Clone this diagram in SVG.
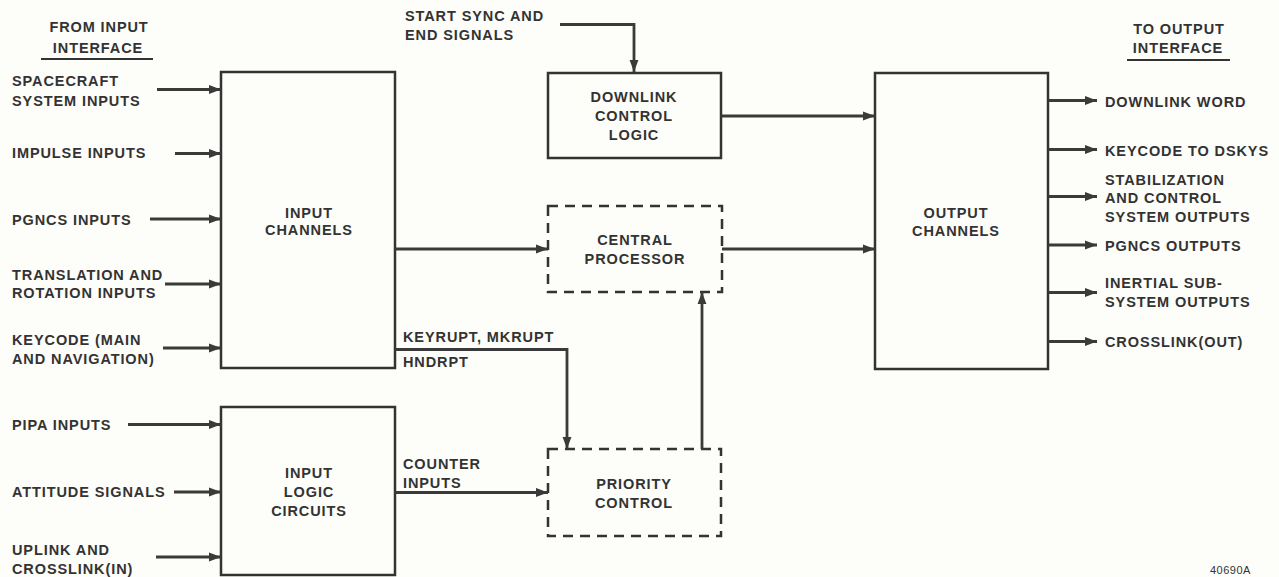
<svg xmlns="http://www.w3.org/2000/svg" width="1279" height="577" viewBox="0 0 1279 577">
<style>
text{font-family:"Liberation Sans",Arial,sans-serif;font-weight:bold;font-size:14.5px;letter-spacing:0.9px;fill:#333}
.c{text-anchor:middle}
.box{fill:none;stroke:#333;stroke-width:2.5}
.dash{fill:none;stroke:#333;stroke-width:2.5;stroke-dasharray:10 7}
.ln{fill:none;stroke:#3a3a3a;stroke-width:2.8}
.arr{marker-end:url(#ah)}
.ul{stroke:#333;stroke-width:1.8}
</style>
<defs>
<marker id="ah" markerUnits="userSpaceOnUse" markerWidth="14" markerHeight="10" refX="12" refY="5" orient="auto">
<path d="M0,0.6 L12,5 L0,9.4 Z" fill="#3a3a3a"/>
</marker>
</defs>
<rect width="1279" height="577" fill="#fdfdf9"/>

<g id="header-left">
<text x="99" y="32" class="c">FROM INPUT</text>
<text x="98" y="53" class="c">INTERFACE</text>
<line x1="41" y1="59" x2="153" y2="59" class="ul"/>
</g>
<g id="header-right">
<text x="1179" y="34" class="c">TO OUTPUT</text>
<text x="1178" y="53" class="c">INTERFACE</text>
<line x1="1127" y1="60" x2="1230" y2="60" class="ul"/>
</g>

<g id="input-channels">
<rect x="221" y="72" width="174" height="296" class="box"/>
<text x="309" y="218" class="c">INPUT</text>
<text x="309" y="235" class="c">CHANNELS</text>
</g>
<g id="input-logic-circuits">
<rect x="221" y="407" width="174" height="168" class="box"/>
<text x="309" y="478" class="c">INPUT</text>
<text x="309" y="497" class="c">LOGIC</text>
<text x="309" y="516" class="c">CIRCUITS</text>
</g>
<g id="downlink-control-logic">
<rect x="548" y="73" width="173" height="85" class="box"/>
<text x="634" y="102" class="c">DOWNLINK</text>
<text x="634" y="121" class="c">CONTROL</text>
<text x="634" y="140" class="c">LOGIC</text>
</g>
<g id="central-processor">
<rect x="548" y="206" width="174" height="86" class="dash"/>
<text x="635" y="245" class="c">CENTRAL</text>
<text x="635" y="264" class="c">PROCESSOR</text>
</g>
<g id="priority-control">
<rect x="548" y="449" width="173" height="87" class="dash"/>
<text x="634" y="489" class="c">PRIORITY</text>
<text x="634" y="508" class="c">CONTROL</text>
</g>
<g id="output-channels">
<rect x="875" y="73" width="173" height="296" class="box"/>
<text x="956" y="218" class="c">OUTPUT</text>
<text x="956" y="236" class="c">CHANNELS</text>
</g>

<g id="input-labels">
<text x="12" y="86">SPACECRAFT</text>
<text x="12" y="106">SYSTEM INPUTS</text>
<text x="12" y="158">IMPULSE  INPUTS</text>
<text x="12" y="225">PGNCS INPUTS</text>
<text x="12" y="280">TRANSLATION AND</text>
<text x="12" y="298">ROTATION INPUTS</text>
<text x="12" y="345">KEYCODE (MAIN</text>
<text x="12" y="364">AND NAVIGATION)</text>
<text x="12" y="430">PIPA INPUTS</text>
<text x="12" y="497">ATTITUDE SIGNALS</text>
<text x="12" y="555">UPLINK AND</text>
<text x="12" y="574">CROSSLINK(IN)</text>
</g>
<g id="output-labels">
<text x="1105" y="107">DOWNLINK  WORD</text>
<text x="1105" y="156">KEYCODE TO DSKYS</text>
<text x="1105" y="185">STABILIZATION</text>
<text x="1105" y="203">AND CONTROL</text>
<text x="1105" y="222">SYSTEM OUTPUTS</text>
<text x="1105" y="251">PGNCS OUTPUTS</text>
<text x="1105" y="288">INERTIAL SUB-</text>
<text x="1105" y="307">SYSTEM OUTPUTS</text>
<text x="1105" y="347">CROSSLINK(OUT)</text>
</g>
<g id="connector-labels">
<text x="405" y="21">START SYNC AND</text>
<text x="405" y="40">END SIGNALS</text>
<text x="403" y="342">KEYRUPT, MKRUPT</text>
<text x="403" y="367">HNDRPT</text>
<text x="403" y="469">COUNTER</text>
<text x="403" y="488">INPUTS</text>
</g>

<g id="connectors">
<path d="M157,89.5 H221" class="ln arr"/>
<path d="M175,153.5 H221" class="ln arr"/>
<path d="M150,219 H221" class="ln arr"/>
<path d="M165,284 H221" class="ln arr"/>
<path d="M163,348 H221" class="ln arr"/>
<path d="M128,424.5 H221" class="ln arr"/>
<path d="M174,492 H221" class="ln arr"/>
<path d="M156,557 H221" class="ln arr"/>
<path d="M560,24.5 H634 V72" class="ln arr"/>
<path d="M721,116 H875" class="ln arr"/>
<path d="M395,249 H548" class="ln arr"/>
<path d="M722,249 H875" class="ln arr"/>
<path d="M395,349.5 H567 V449" class="ln arr"/>
<path d="M702,449 V292" class="ln arr"/>
<path d="M395,492.5 H548" class="ln arr"/>
<path d="M1048,100.5 H1097" class="ln arr"/>
<path d="M1048,149.5 H1097" class="ln arr"/>
<path d="M1048,196.5 H1097" class="ln arr"/>
<path d="M1048,245 H1097" class="ln arr"/>
<path d="M1048,292.5 H1097" class="ln arr"/>
<path d="M1048,341.5 H1097" class="ln arr"/>
</g>

<text x="1210" y="574" style="font-weight:normal;font-size:11px;letter-spacing:0.5px">40690A</text>
</svg>
